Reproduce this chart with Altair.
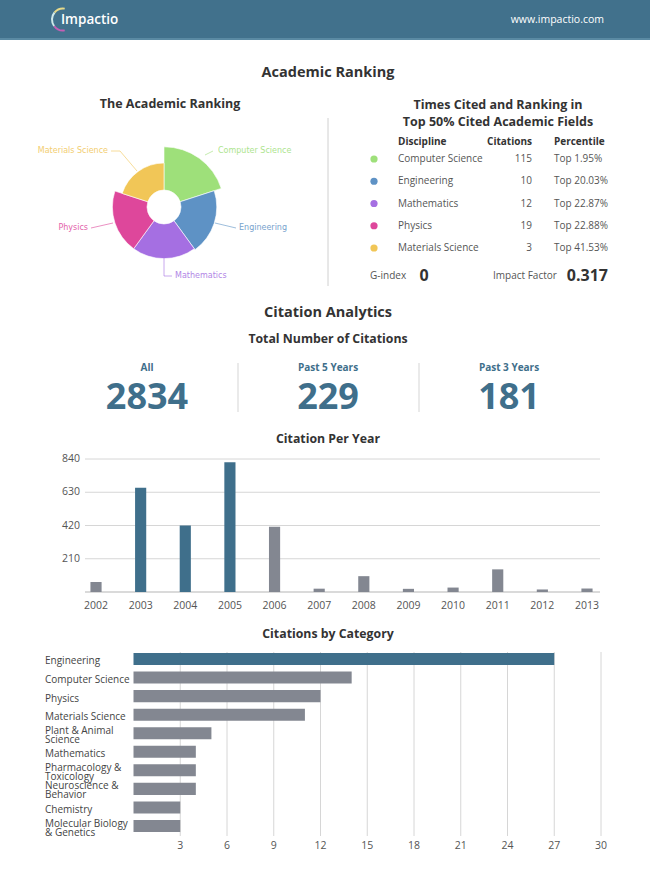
import math
import altair as alt
import pandas as pd

# ---------------- data ----------------
fields = ["Computer Science", "Engineering", "Mathematics", "Physics", "Materials Science"]
field_citations = [115, 10, 12, 19, 3]
field_percentile = [1.95, 20.03, 22.87, 22.88, 41.53]
field_colors = ["#9ee07a", "#5e92c5", "#a56fe2", "#de479b", "#f1c657"]

g_index = 0
impact_factor = 0.317

totals_labels = ["All", "Past 5 Years", "Past 3 Years"]
totals_values = [2834, 229, 181]

years = ["2002", "2003", "2004", "2005", "2006", "2007",
         "2008", "2009", "2010", "2011", "2012", "2013"]
year_citations = [63, 658, 420, 819, 412, 21, 100, 20, 28, 143, 16, 22]
highlight_years = ["2003", "2004", "2005"]
year_ticks = [0, 210, 420, 630, 840]

categories = ["Engineering", "Computer Science", "Physics", "Materials Science",
              "Plant & Animal Science", "Mathematics", "Pharmacology & Toxicology",
              "Neuroscience & Behavior", "Chemistry", "Molecular Biology & Genetics"]
category_labels = ["Engineering", "Computer Science", "Physics", "Materials Science",
                   "Plant & Animal\nScience", "Mathematics", "Pharmacology &\nToxicology",
                   "Neuroscience &\nBehavior", "Chemistry", "Molecular Biology\n& Genetics"]
category_citations = [27, 14, 12, 11, 5, 4, 4, 4, 3, 3]
highlight_categories = ["Engineering"]
category_ticks = [3, 6, 9, 12, 15, 18, 21, 24, 27, 30]

# ---------------- style ----------------
W, H = 650, 873
FONT = "Open Sans"
HEADER = "#41718c"
TEAL = "#3f6f8b"
GRAY = "#838791"
DARK = "#333333"
MID = "#555555"
GRID = "#d6d6d6"

one = pd.DataFrame({"a": [0]})


def txt(s, x, y, size=11, color=MID, weight="normal", align="center",
        font=FONT, opacity=1.0, baseline="middle"):
    return alt.Chart(pd.DataFrame({"t": [s]})).mark_text(
        font=font, fontSize=size, color=color, fontWeight=weight,
        align=align, baseline=baseline, opacity=opacity
    ).encode(text="t:N", x=alt.value(x), y=alt.value(y))


def rule(x, y, x2, y2, color=GRID, width=1.0, opacity=1.0):
    return alt.Chart(one).mark_rule(color=color, strokeWidth=width, opacity=opacity).encode(
        x=alt.value(x), y=alt.value(y), x2=alt.value(x2), y2=alt.value(y2))


layers = []

# ---------------- header ----------------
layers.append(alt.Chart(one).mark_rect(color=HEADER).encode(
    x=alt.value(0), x2=alt.value(W), y=alt.value(0), y2=alt.value(40)))
layers.append(alt.Chart(one).mark_rect(color="#5a8aa3").encode(
    x=alt.value(0), x2=alt.value(W), y=alt.value(38), y2=alt.value(40)))
for t1, t2, c in [(math.pi * 0.95, math.pi * 1.3, "#c45fb5"),
                  (math.pi * 1.3, math.pi * 1.72, "#cfe9ea"),
                  (math.pi * 1.72, math.pi * 2.05, "#e6d98a")]:
    layers.append(alt.Chart(one).mark_arc(theta=t1, theta2=t2, innerRadius=10,
                                          outerRadius=12, color=c).encode(
        x=alt.value(63), y=alt.value(19.5)))
layers.append(txt("Impactio", 61, 20, size=13.5, color="white", weight=600, align="left"))
layers.append(txt("www.impactio.com", 604, 20, size=10.5, color="white", align="right"))

# ---------------- Academic ranking ----------------
layers.append(txt("Academic Ranking", 328, 73, size=14.5, color=DARK, weight="bold"))
layers.append(txt("The Academic Ranking", 170, 104, size=12.5, color=DARK, weight="bold"))
layers.append(rule(328, 118, 328, 286, color="#d0d0d0"))

field_df = pd.DataFrame({"field": fields, "citations": field_citations,
                         "percentile": field_percentile, "order": list(range(len(fields)))})
field_color = alt.Color("field:N", scale=alt.Scale(domain=fields, range=field_colors), legend=None)

pie = alt.Chart(field_df).transform_calculate(
    one="1", score="100 - datum.percentile"
).transform_stack(
    stack="one", as_=["t0", "t1"], groupby=[], sort=[alt.SortField("order")], offset="normalize"
).mark_arc(stroke="white", strokeWidth=0.6).encode(
    theta=alt.Theta("t0:Q", scale=alt.Scale(domain=[0, 1], range=[0, 2 * math.pi])),
    theta2="t1:Q",
    radius=alt.Radius("score:Q", scale=alt.Scale(type="linear", domain=[0, 100], range=[20, 61])),
    radius2=alt.value(17),
    color=field_color,
    x=alt.value(164), y=alt.value(207),
)
layers.append(pie)

# pie labels and leader lines (annotation positions)
pie_label_pos = [(218, 151, "left"), (239, 228, "left"), (175, 276, "left"),
                 (88, 228, "right"), (108, 151, "right")]
leaders = [
    [(205, 155, 213, 151)],
    [(215, 223, 236, 228)],
    [(164, 258, 164, 276), (164, 276, 172, 276)],
    [(91, 228, 113, 223)],
    [(111, 151, 120, 151), (120, 151, 137, 171)],
]
for f, c, (lx, ly, la), segs in zip(fields, field_colors, pie_label_pos, leaders):
    for (a, b, c2, d) in segs:
        layers.append(rule(a, b, c2, d, color=c, width=1, opacity=0.6))
    layers.append(txt(f, lx, ly, size=8, color=c, align=la, font="DejaVu Sans", opacity=0.85))

# table
layers.append(txt("Times Cited and Ranking in", 498, 105, size=12.5, color=DARK, weight="bold"))
layers.append(txt("Top 50% Cited Academic Fields", 498, 122, size=12.5, color=DARK, weight="bold"))
layers.append(txt("Discipline", 398, 142, size=10, color=DARK, weight="bold", align="left"))
layers.append(txt("Citations", 532, 142, size=10, color=DARK, weight="bold", align="right"))
layers.append(txt("Percentile", 554, 142, size=10, color=DARK, weight="bold", align="left"))

row_y = alt.Y("field:N", scale=alt.Scale(type="point", domain=fields, range=[159, 248], padding=0), axis=None)
tbase = alt.Chart(field_df).transform_calculate(
    pct="'Top ' + format(datum.percentile, '.2f') + '%'")
table = alt.layer(
    tbase.mark_circle(size=52, opacity=1).encode(y=row_y, x=alt.value(374), color=field_color),
    tbase.mark_text(font=FONT, fontSize=10, color=MID, align="left", baseline="middle").encode(
        y=row_y, x=alt.value(398), text="field:N"),
    tbase.mark_text(font=FONT, fontSize=10, color=MID, align="right", baseline="middle").encode(
        y=row_y, x=alt.value(532), text="citations:Q"),
    tbase.mark_text(font=FONT, fontSize=10, color=MID, align="left", baseline="middle").encode(
        y=row_y, x=alt.value(554), text="pct:N"),
)
layers.append(table)

layers.append(txt("G-index", 370, 276, size=10, color=MID, align="left"))
layers.append(txt(str(g_index), 424, 276, size=16, color=DARK, weight="bold"))
layers.append(txt("Impact Factor", 493, 276, size=10, color=MID, align="left"))
layers.append(txt(f"{impact_factor:.3f}", 608, 276, size=16, color=DARK, weight="bold", align="right"))

# ---------------- Citation analytics ----------------
layers.append(txt("Citation Analytics", 328, 313, size=14.5, color=DARK, weight="bold"))
layers.append(txt("Total Number of Citations", 328, 339, size=12.3, color=DARK, weight="bold"))
totals_df = pd.DataFrame({"label": totals_labels, "value": totals_values})
tot_x = alt.X("label:N", scale=alt.Scale(type="point", domain=totals_labels, range=[147, 509], padding=0), axis=None)
totals = alt.layer(
    alt.Chart(totals_df).mark_text(font=FONT, fontSize=10, fontWeight="bold", color=TEAL,
                                   baseline="middle").encode(x=tot_x, y=alt.value(368), text="label:N"),
    alt.Chart(totals_df).mark_text(font=FONT, fontSize=36, fontWeight="bold", color=TEAL,
                                   baseline="alphabetic").encode(x=tot_x, y=alt.value(409), text="value:Q"),
)
layers.append(totals)
layers.append(rule(238, 363, 238, 412, color="#d5d5d5"))
layers.append(rule(419, 363, 419, 412, color="#d5d5d5"))

# ---------------- Citation per year ----------------
layers.append(txt("Citation Per Year", 328, 439, size=12.3, color=DARK, weight="bold"))
year_df = pd.DataFrame({"year": years, "citations": year_citations})
year_df["hl"] = year_df["year"].isin(highlight_years)
ytick_df = pd.DataFrame({"v": year_ticks})
yx = alt.X("year:N", scale=alt.Scale(type="band", domain=years, range=[73.7, 609.3],
                                     paddingInner=0.75, paddingOuter=0.375), axis=None)
yy_scale = alt.Scale(domain=[0, 840], range=[592, 459])
year_chart = alt.layer(
    alt.Chart(ytick_df).transform_filter("datum.v > 0").mark_rule(color=GRID).encode(
        y=alt.Y("v:Q", scale=yy_scale, axis=None), x=alt.value(85), x2=alt.value(600)),
    alt.Chart(ytick_df).transform_filter("datum.v == 0").mark_rule(color="#b5b5b5").encode(
        y=alt.Y("v:Q", scale=yy_scale, axis=None), x=alt.value(85), x2=alt.value(600)),
    alt.Chart(ytick_df).transform_filter("datum.v > 0").mark_text(
        font=FONT, fontSize=10.5, color=MID, align="right", baseline="middle").encode(
        y=alt.Y("v:Q", scale=yy_scale, axis=None), x=alt.value(80), text="v:Q"),
    alt.Chart(year_df).mark_bar().encode(
        x=yx, y=alt.Y("citations:Q", scale=yy_scale, axis=None),
        color=alt.condition("datum.hl", alt.value(TEAL), alt.value(GRAY))),
    alt.Chart(year_df).mark_text(font=FONT, fontSize=10.5, color=MID, baseline="middle").encode(
        x=yx, y=alt.value(606), text="year:N"),
)
layers.append(year_chart)

# ---------------- Citations by category ----------------
layers.append(txt("Citations by Category", 328, 634, size=12.3, color=DARK, weight="bold"))
cat_df = pd.DataFrame({"cat": categories, "label": category_labels, "citations": category_citations})
cat_df["hl"] = cat_df["cat"].isin(highlight_categories)
ctick_df = pd.DataFrame({"v": category_ticks})
cx_scale = alt.Scale(domain=[0, 30], range=[133.5, 601])
cy = alt.Y("cat:N", scale=alt.Scale(type="band", domain=categories, range=[649.7, 835.3],
                                    paddingInner=0.35, paddingOuter=0.175), axis=None)
cat_chart = alt.layer(
    alt.Chart(ctick_df).mark_rule(color=GRID).encode(
        x=alt.X("v:Q", scale=cx_scale, axis=None), y=alt.value(652), y2=alt.value(836)),
    alt.Chart(ctick_df).mark_text(font=FONT, fontSize=10.5, color=MID, baseline="middle").encode(
        x=alt.X("v:Q", scale=cx_scale, axis=None), y=alt.value(846), text="v:Q"),
    alt.Chart(cat_df).mark_bar().encode(
        y=cy, x=alt.X("citations:Q", scale=cx_scale, axis=None),
        color=alt.condition("datum.hl", alt.value(TEAL), alt.value(GRAY))),
    alt.Chart(cat_df).transform_filter("indexof(datum.label, '\\n') < 0").mark_text(
        font=FONT, fontSize=10, color="#444444", align="left", baseline="middle", dy=2.5).encode(
        y=cy, x=alt.value(45), text="label:N"),
    alt.Chart(cat_df).transform_filter("indexof(datum.label, '\\n') >= 0").mark_text(
        font=FONT, fontSize=10, color="#444444", align="left", baseline="middle",
        lineBreak="\n", lineHeight=9, dy=-2.5).encode(
        y=cy, x=alt.value(45), text="label:N"),
)
layers.append(cat_chart)

chart = alt.layer(*layers).resolve_scale(
    x="independent", y="independent", color="independent",
    theta="independent", radius="independent"
).properties(
    width=W, height=H, padding=0,
    autosize=alt.AutoSizeParams(type="none"),
    background="white",
).configure_view(strokeWidth=0)

chart.save("out.html", embed_options={"renderer": "svg", "actions": False})
